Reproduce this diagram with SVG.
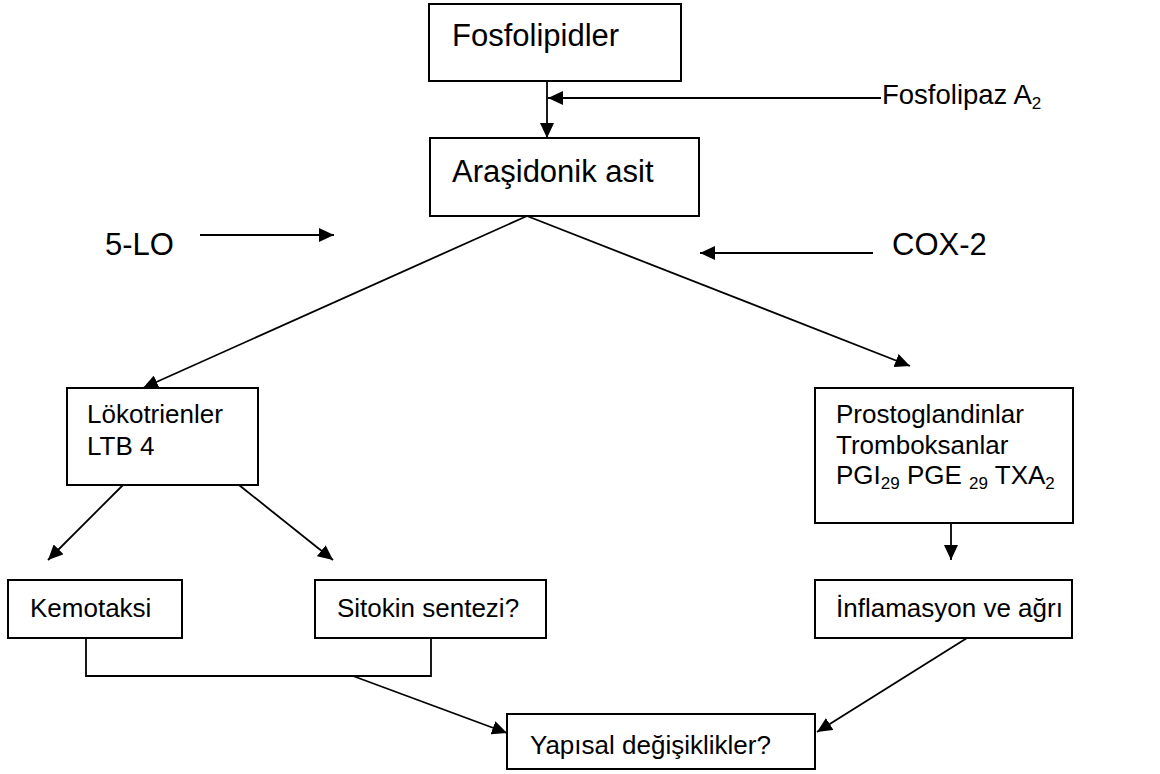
<svg xmlns="http://www.w3.org/2000/svg" width="1160" height="774" viewBox="0 0 1160 774">
<style>
.box{fill:#fff;stroke:#000;stroke-width:2}
.ln{fill:none;stroke:#000;stroke-width:1.8}
.arr{marker-end:url(#ah)}
text{font-family:"Liberation Sans",Arial,sans-serif;fill:#000}
.lg{font-size:31px}
.sm{font-size:26px}
.md{font-size:27.5px}
.sub{font-size:17px}
</style>
<defs>
<marker id="ah" markerUnits="userSpaceOnUse" markerWidth="16" markerHeight="14" refX="15" refY="7" orient="auto">
<path d="M0,0 L15,7 L0,14 z" fill="#000"/>
</marker>
</defs>
<rect width="1160" height="774" fill="#fff"/>
<g id="connectors">
<line class="ln arr" x1="547" y1="81" x2="547" y2="138"/>
<line class="ln arr" x1="881" y1="98" x2="548" y2="98"/>
<line class="ln arr" x1="200" y1="235" x2="334" y2="235"/>
<line class="ln arr" x1="873" y1="253" x2="700" y2="253"/>
<line class="ln arr" x1="527" y1="216" x2="143" y2="388"/>
<line class="ln arr" x1="527" y1="216" x2="910" y2="366"/>
<line class="ln arr" x1="123" y1="485" x2="48" y2="560"/>
<line class="ln arr" x1="239" y1="485" x2="333" y2="560"/>
<line class="ln arr" x1="951" y1="523" x2="951" y2="560"/>
<polyline class="ln" points="86,638 86,676 431,676 431,638"/>
<line class="ln arr" x1="353" y1="676" x2="507" y2="733"/>
<line class="ln arr" x1="967" y1="638" x2="817" y2="732"/>
</g>
<g id="fosfolipidler">
<rect class="box" x="429" y="4" width="252" height="77"/>
<text class="lg" x="452" y="46">Fosfolipidler</text>
</g>
<g id="fosfolipaz">
<text class="md" x="882" y="104">Fosfolipaz A<tspan class="sub" dy="5">2</tspan></text>
</g>
<g id="arasidonik">
<rect class="box" x="430" y="138" width="269" height="78"/>
<text class="lg" x="452" y="182">Araşidonik asit</text>
</g>
<g id="lo5">
<text class="lg" x="105" y="255">5-LO</text>
</g>
<g id="cox2">
<text class="lg" x="892" y="255">COX-2</text>
</g>
<g id="lokotrienler">
<rect class="box" x="67" y="388" width="191" height="97"/>
<text class="sm" x="87" y="423">Lökotrienler</text>
<text class="sm" x="87" y="455">LTB 4</text>
</g>
<g id="prostoglandinlar">
<rect class="box" x="815" y="388" width="258" height="135"/>
<text class="sm" x="836" y="423">Prostoglandinlar</text>
<text class="sm" x="836" y="454">Tromboksanlar</text>
<text class="sm" x="836" y="484">PGI<tspan class="sub" dy="5">29</tspan><tspan dy="-5"> PGE </tspan><tspan class="sub" dy="5">29</tspan><tspan dy="-5"> TXA</tspan><tspan class="sub" dy="5">2</tspan></text>
</g>
<g id="kemotaksi">
<rect class="box" x="8" y="580" width="174" height="58"/>
<text class="sm" x="30" y="617">Kemotaksi</text>
</g>
<g id="sitokin">
<rect class="box" x="315" y="580" width="231" height="58"/>
<text class="sm" x="337" y="617">Sitokin sentezi?</text>
</g>
<g id="inflamasyon">
<rect class="box" x="815" y="580" width="257" height="58"/>
<text class="sm" x="836" y="617">İnflamasyon ve ağrı</text>
</g>
<g id="yapisal">
<rect class="box" x="507" y="714" width="308" height="55"/>
<text class="sm" x="530" y="754">Yapısal değişiklikler?</text>
</g>
</svg>
